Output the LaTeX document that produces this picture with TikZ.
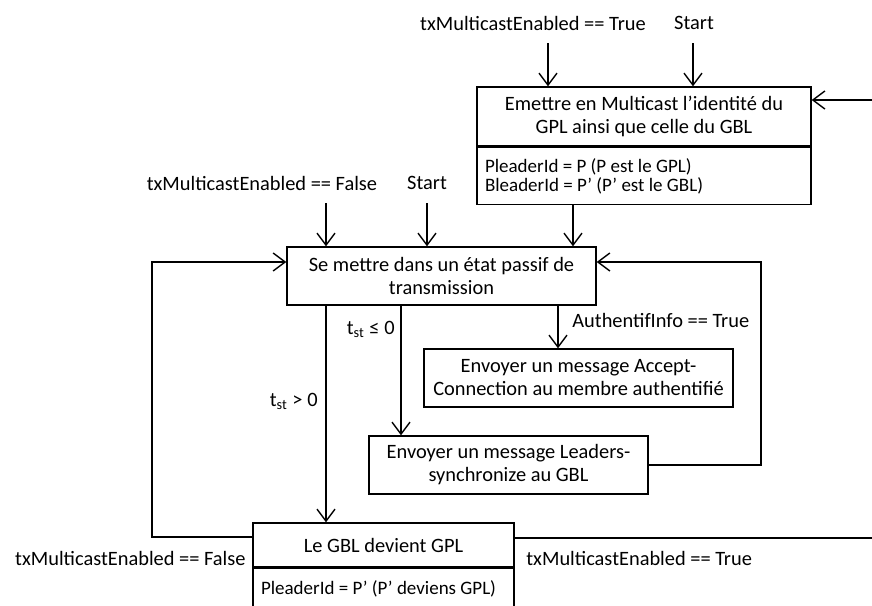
\documentclass[tikz,border=0pt]{standalone}
\usepackage{fontspec}
\setmainfont{Carlito}
\usetikzlibrary{arrows.meta,positioning,calc}
\newcommand\mainsz{\fontsize{10.2}{11.5}\selectfont}
\newcommand\compsz{\fontsize{9.5}{9.5}\selectfont}
\tikzset{
  box/.style={rectangle, draw, line width=0.7pt, align=center, font=\mainsz,
              inner sep=0pt},
  cbox/.style={rectangle, draw, line width=0.7pt, align=flush left, font=\compsz,
               inner xsep=4pt, inner ysep=0pt, anchor=north},
  lbl/.style={font=\mainsz, inner sep=0pt},
  arr/.style={-{Straight Barb[length=6pt,width=9pt]}, line width=0.7pt},
  ln/.style={line width=0.7pt}
}

\begin{document}
\begin{tikzpicture}[x=0.5pt, y=-0.5pt]
  \useasboundingbox (0,0) rectangle (872,605);
  \clip (0,0) rectangle (872,605);
  % states
  \node[box, minimum width=167pt, minimum height=29.5pt] (emit) at (644,116.5)
    {Emettre en Multicast l'identité du\\GPL ainsi que celle du GBL};
  \node[cbox, text width=159pt, minimum height=28.5pt] (emitc) at (emit.south)
    {PleaderId = P (P est le GPL)\\BleaderId = P' (P' est le GBL)};
  \node[box, minimum width=154.5pt, minimum height=29pt] (passive) at (441.5,276)
    {Se mettre dans un état passif de\\transmission};
  \node[box, minimum width=154.5pt, minimum height=29pt] (accept) at (578.5,378)
    {Envoyer un message Accept-\\Connection au membre authentifié};
  \node[box, minimum width=139.5pt, minimum height=29pt] (leaders) at (508.5,465)
    {Envoyer un message Leaders-\\synchronize au GBL};
  \node[box, minimum width=130.5pt, minimum height=22pt] (gpl) at (383.5,545)
    {Le GBL devient GPL};
  \node[cbox, text width=122.5pt, inner ysep=3pt, text height=10pt, text depth=12pt]
    (gplc) at (gpl.south) {PleaderId = P' (P' deviens GPL)};
  % guards
  \node[lbl] (trueT) at (533,23) {txMulticastEnabled == True};
  \node[lbl] (startT) at (694,23) {Start};
  \node[lbl] (falseP) at (262,183) {txMulticastEnabled == False};
  \node[lbl] (startP) at (427,183) {Start};
  \node[lbl, anchor=west] (auth) at (572,320) {AuthentifInfo == True};
  \node[lbl, anchor=east] (tle) at (395,329) {t\textsubscript{st} ≤ 0};
  \node[lbl, anchor=east] (tgt) at (318,401) {t\textsubscript{st} > 0};
  \node[lbl, anchor=east] (falseG) at (246,558) {txMulticastEnabled == False};
  \node[lbl, anchor=west] (trueG) at (526,558) {txMulticastEnabled == True};
  \coordinate (c1) at (548,43);
  \coordinate (c2) at (693,43);
  \coordinate (c3) at (326,203);
  \coordinate (c4) at (427,203);
  % transitions
  \draw[arr] (c1) -- (c1 |- emit.north);
  \draw[arr] (c2) -- (c2 |- emit.north);
  \draw[arr] (c3) -- (c3 |- passive.north);
  \draw[arr] (c4) -- (c4 |- passive.north);
  \draw[arr] (emitc.south -| 573,0) -- (passive.north -| 573,0);
  \draw[arr] (passive.south -| 558,0) -- (accept.north -| 558,0);
  \draw[arr] (passive.south -| 401,0) -- (leaders.north -| 401,0);
  \draw[arr] (passive.south -| 326,0) -- (gpl.north -| 326,0);
  \draw[arr] (leaders.east) -- (761,465) |- (passive.east |- 0,262);
  \draw[arr] (gpl.west |- 0,537) -- (152,537) |- (passive.west |- 0,262);
  \draw[arr] (gpl.east |- 0,538) -- (895,538) |- (emit.east |- 0,100);
\end{tikzpicture}
\end{document}
